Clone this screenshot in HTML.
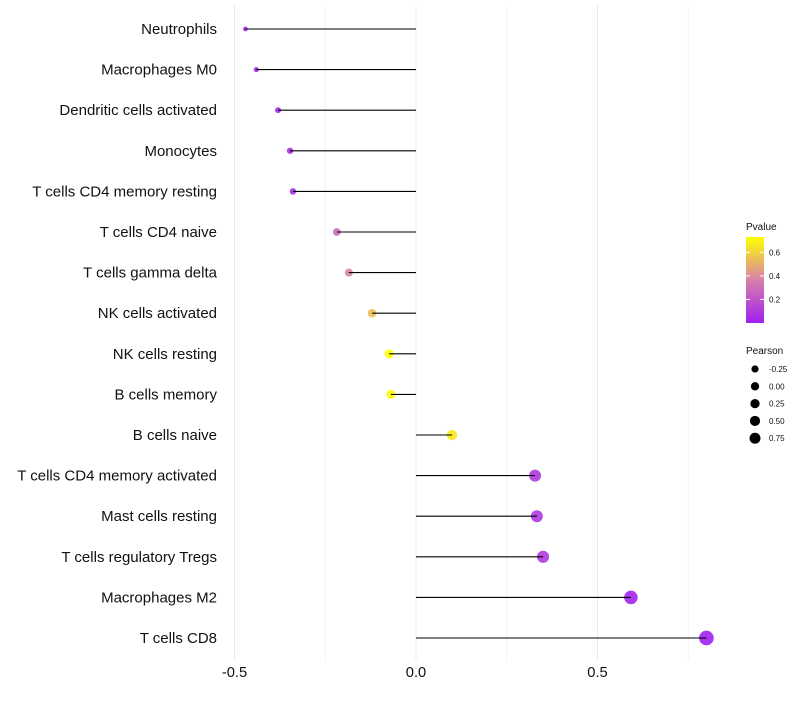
<!DOCTYPE html>
<html><head><meta charset="utf-8"><style>
body{margin:0;background:#fff;font-family:"Liberation Sans",sans-serif}
</style></head><body>
<svg id="chart" width="800" height="700" xmlns="http://www.w3.org/2000/svg"></svg>
<script>
const categories=["Neutrophils","Macrophages M0","Dendritic cells activated","Monocytes","T cells CD4 memory resting","T cells CD4 naive","T cells gamma delta","NK cells activated","NK cells resting","B cells memory","B cells naive","T cells CD4 memory activated","Mast cells resting","T cells regulatory  Tregs ","Macrophages M2","T cells CD8"];
const pearson=[-0.47,-0.44,-0.38,-0.347,-0.339,-0.218,-0.185,-0.121,-0.074,-0.069,0.099,0.328,0.333,0.35,0.592,0.80];
const pvalue=[0.02,0.03,0.04,0.05,0.06,0.3,0.38,0.55,0.73,0.72,0.66,0.1,0.1,0.09,0.02,0.001];
const xTicks=[-0.5,0,0.5];
const xTickLabels=["-0.5","0.0","0.5"];
const xMinor=[-0.25,0.25,0.75];
const pTicks=[0.2,0.4,0.6];
const sizeTicks=[-0.25,0,0.25,0.5,0.75];

const NS="http://www.w3.org/2000/svg";
const svg=document.getElementById('chart');
const X=v=>416+v*363;
const Y=i=>29+i*40.6;
const PMIN=0,PMAX=0.73;
function lerp(a,b,t){return a+(b-a)*t}
function col(p){
  let t=Math.max(0,Math.min(1,(p-PMIN)/(PMAX-PMIN)));
  const s=[[160,32,240],[216,128,170],[255,255,0]];
  let a,b,u;
  if(t<0.5){a=s[0];b=s[1];u=t/0.5}else{a=s[1];b=s[2];u=(t-0.5)/0.5}
  return `rgb(${Math.round(lerp(a[0],b[0],u))},${Math.round(lerp(a[1],b[1],u))},${Math.round(lerp(a[2],b[2],u))})`;
}
const R=v=>Math.sqrt(Math.max(1,5.5+(v+0.47)*38));
const RL=v=>Math.sqrt(Math.max(1,13+(v+0.25)*17));
function el(t,a,p){const e=document.createElementNS(NS,t);for(const k in a)e.setAttribute(k,a[k]);(p||svg).appendChild(e);return e}

xMinor.forEach(v=>{const g=el('line',{x1:X(v),x2:X(v),y1:5,y2:660,stroke:'#f2f2f2','stroke-width':1});

});
xTicks.forEach(v=>{const g=el('line',{x1:X(v),x2:X(v),y1:5,y2:660,stroke:'#ebebeb','stroke-width':1});

});

categories.forEach((c,i)=>{
  const y=Y(i);
  const t=el('text',{x:217,y:y+5,'text-anchor':'end','font-size':15,fill:'#111'});t.textContent=c;
  
  
  const pt=el('circle',{cx:X(pearson[i]),cy:y,r:R(pearson[i]),fill:col(pvalue[i]),'fill-opacity':0.9});
  
  
  const ln=el('line',{x1:X(0),x2:X(pearson[i]),y1:y,y2:y,stroke:'#000','stroke-width':1.1});
  
  
});
xTicks.forEach((v,i)=>{const t=el('text',{x:X(v),y:677,'text-anchor':'middle','font-size':14.7,fill:'#111'});t.textContent=xTickLabels[i];

});

const lt=el('text',{x:746,y:230,'font-size':10,fill:'#111'});lt.textContent='Pvalue';


const defs=el('defs',{});
const gr=el('linearGradient',{id:'pg',x1:0,y1:1,x2:0,y2:0},defs);
[0,0.25,0.5,0.75,1].forEach(o=>el('stop',{offset:o,'stop-color':col(PMIN+o*(PMAX-PMIN))},gr));
const bar=el('rect',{x:746,y:237,width:18,height:86,fill:'url(#pg)'});


const PY=p=>323-(p-PMIN)/(PMAX-PMIN)*86;
pTicks.forEach(p=>{el('line',{x1:746,x2:750,y1:PY(p),y2:PY(p),stroke:'#fff'});el('line',{x1:760,x2:764,y1:PY(p),y2:PY(p),stroke:'#fff'});
const t=el('text',{x:769,y:PY(p)+3,'font-size':8,fill:'#111'});t.textContent=p.toFixed(1);

});

const st=el('text',{x:746,y:354,'font-size':10,fill:'#111'});st.textContent='Pearson';


sizeTicks.forEach((v,i)=>{const y=369+i*17.3;
const c=el('circle',{cx:755,cy:y,r:RL(v),fill:'#000'});


const t=el('text',{x:769,y:y+3,'font-size':8,fill:'#111'});t.textContent=v.toFixed(2);

});
</script>
</body></html>
